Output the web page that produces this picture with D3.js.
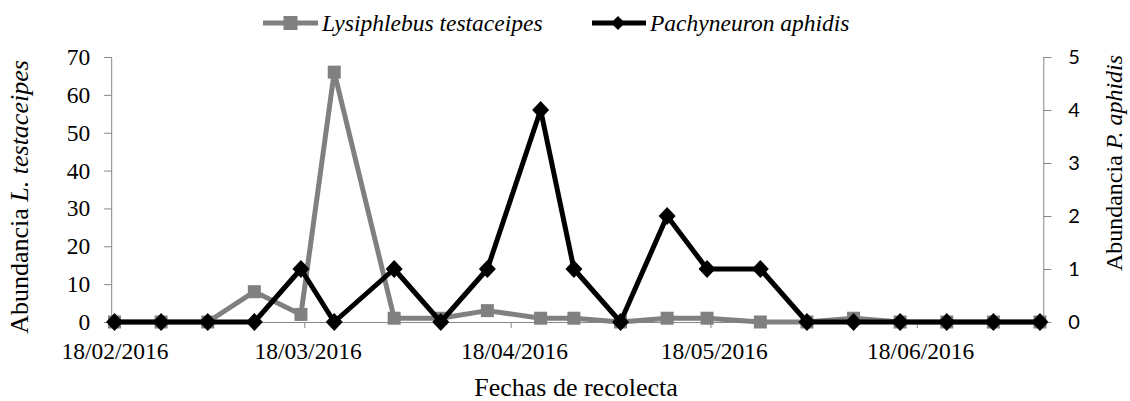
<!DOCTYPE html>
<html>
<head>
<meta charset="utf-8">
<script src="https://cdn.jsdelivr.net/npm/d3@7"></script>
<style>
  html, body { margin: 0; padding: 0; background: #fff; }
  svg { display: block; }
</style>
</head>
<body>
<svg id="chart" width="1130" height="401"></svg>
<script>
// ---- data ----
const dates = ["2016-02-18","2016-02-25","2016-03-03","2016-03-10","2016-03-17","2016-03-22","2016-03-31",
               "2016-04-07","2016-04-14","2016-04-22","2016-04-27","2016-05-04","2016-05-11","2016-05-17",
               "2016-05-25","2016-06-01","2016-06-08","2016-06-15","2016-06-22","2016-06-29","2016-07-06"];
const lysiphlebus = [0,0,0,8,2,66,1,1,3,1,1,0,1,1,0,0,1,0,0,0,0];
const pachyneuron = [0,0,0,0,1,0,1,0,1,4,1,0,2,1,1,0,0,0,0,0,0];
const xTickDates = ["2016-02-18","2016-03-18","2016-04-18","2016-05-18","2016-06-18"];
const xDomain = ["2016-02-18","2016-07-07"];
const leftTicks = [0,10,20,30,40,50,60,70];
const rightTicks = [0,1,2,3,4,5];
const seriesNames = ["Lysiphlebus testaceipes","Pachyneuron aphidis"];

// ---- layout ----
const parse = d3.utcParse("%Y-%m-%d");
const fmt = d3.utcFormat("%d/%m/%Y");
const plot = {left: 111.2, right: 1043.3, top: 57, bottom: 322};
const axisColor = "#868686";
const serif = "'Liberation Serif', 'Times New Roman', serif";
const sans = "Lato, 'Open Sans', sans-serif";
const grayC = "#808080";

const svg = d3.select("#chart");

const x = d3.scaleUtc().domain(xDomain.map(parse)).range([plot.left, plot.right]);
const halfDay = (x(parse("2016-02-19")) - x(parse("2016-02-18"))) / 2;
const xc = s => x(parse(s)) + halfDay; // Excel date axis: points at day centre
const yL = d3.scaleLinear().domain([0,70]).range([plot.bottom, plot.top]);
const yR = d3.scaleLinear().domain([0,5]).range([plot.bottom, plot.top]);

// x axis
const gx = svg.append("g").attr("transform", `translate(0,${plot.bottom})`)
  .call(d3.axisBottom(x).tickValues(xTickDates.map(parse)).tickFormat(fmt).tickSizeOuter(0).tickSize(6).tickPadding(14));
gx.select(".domain").attr("stroke", axisColor);
gx.selectAll(".tick line").attr("stroke", axisColor);
gx.selectAll(".tick text").attr("x", halfDay).attr("font-family", serif).attr("font-size", 23.5).attr("fill", "#000");

// left axis
const gl = svg.append("g").attr("transform", `translate(${plot.left},0)`)
  .call(d3.axisLeft(yL).tickValues(leftTicks).tickFormat(d3.format("d")).tickSizeOuter(0).tickSize(7).tickPadding(14));
gl.select(".domain").attr("stroke", axisColor);
gl.selectAll(".tick line").attr("stroke", axisColor);
gl.selectAll(".tick text").attr("font-family", serif).attr("font-size", 23.5).attr("fill", "#000");

// right axis
const gr = svg.append("g").attr("transform", `translate(${plot.right},0)`)
  .call(d3.axisRight(yR).tickValues(rightTicks).tickFormat(d3.format("d")).tickSizeOuter(0).tickSize(8).tickPadding(17));
gr.select(".domain").attr("stroke", axisColor);
gr.selectAll(".tick line").attr("stroke", axisColor);
gr.selectAll(".tick text").attr("font-family", sans).attr("font-size", 20).attr("fill", "#000");

// series
const squareSize = 13;
const diamond = (w, h) => `M0,${-h}L${w},0L0,${h}L${-w},0Z`;

const lineL = d3.line().x((d,i) => xc(dates[i])).y(d => yL(d));
svg.append("path").datum(lysiphlebus).attr("d", lineL)
  .attr("fill","none").attr("stroke", grayC).attr("stroke-width", 5).attr("stroke-linejoin","round");
svg.append("g").selectAll("rect").data(lysiphlebus).join("rect")
  .attr("x", (d,i) => xc(dates[i]) - squareSize/2).attr("y", d => yL(d) - squareSize/2)
  .attr("width", squareSize).attr("height", squareSize).attr("fill", grayC);

const lineR = d3.line().x((d,i) => xc(dates[i])).y(d => yR(d));
svg.append("path").datum(pachyneuron).attr("d", lineR)
  .attr("fill","none").attr("stroke", "#000").attr("stroke-width", 5).attr("stroke-linejoin","round");
svg.append("g").selectAll("path").data(pachyneuron).join("path")
  .attr("transform", (d,i) => `translate(${xc(dates[i])},${yR(d)})`)
  .attr("d", diamond(8.5, 9)).attr("fill", "#000");

// legend
const leg = svg.append("g").attr("font-family", serif).attr("font-size", 23.5).attr("font-style","italic");
const legY = 23;
leg.append("line").attr("x1", 263).attr("x2", 318).attr("y1", legY).attr("y2", legY).attr("stroke", grayC).attr("stroke-width", 5);
leg.append("rect").attr("x", 290.5 - 7).attr("y", legY - 7).attr("width", 14).attr("height", 14).attr("fill", grayC);
leg.append("text").attr("x", 322).attr("y", legY + 8).text(seriesNames[0]);
leg.append("line").attr("x1", 592).attr("x2", 646).attr("y1", legY).attr("y2", legY).attr("stroke", "#000").attr("stroke-width", 5);
leg.append("path").attr("transform", `translate(618,${legY})`).attr("d", diamond(7, 7)).attr("fill", "#000");
leg.append("text").attr("x", 650).attr("y", legY + 8).text(seriesNames[1]);

// axis titles
svg.append("text").attr("x", 576).attr("y", 396).attr("text-anchor","middle")
  .attr("font-family", serif).attr("font-size", 26).text("Fechas de recolecta");

const tl = svg.append("text").attr("transform", "translate(28,197) rotate(-90)").attr("text-anchor","middle")
  .attr("font-family", serif).attr("font-size", 26);
tl.append("tspan").text("Abundancia ");
tl.append("tspan").attr("font-style","italic").text("L. testaceipes");

const tr = svg.append("text").attr("transform", "translate(1122,163) rotate(-90)").attr("text-anchor","middle")
  .attr("font-family", serif).attr("font-size", 24);
tr.append("tspan").text("Abundancia ");
tr.append("tspan").attr("font-style","italic").text("P. aphidis");
</script>
</body>
</html>
